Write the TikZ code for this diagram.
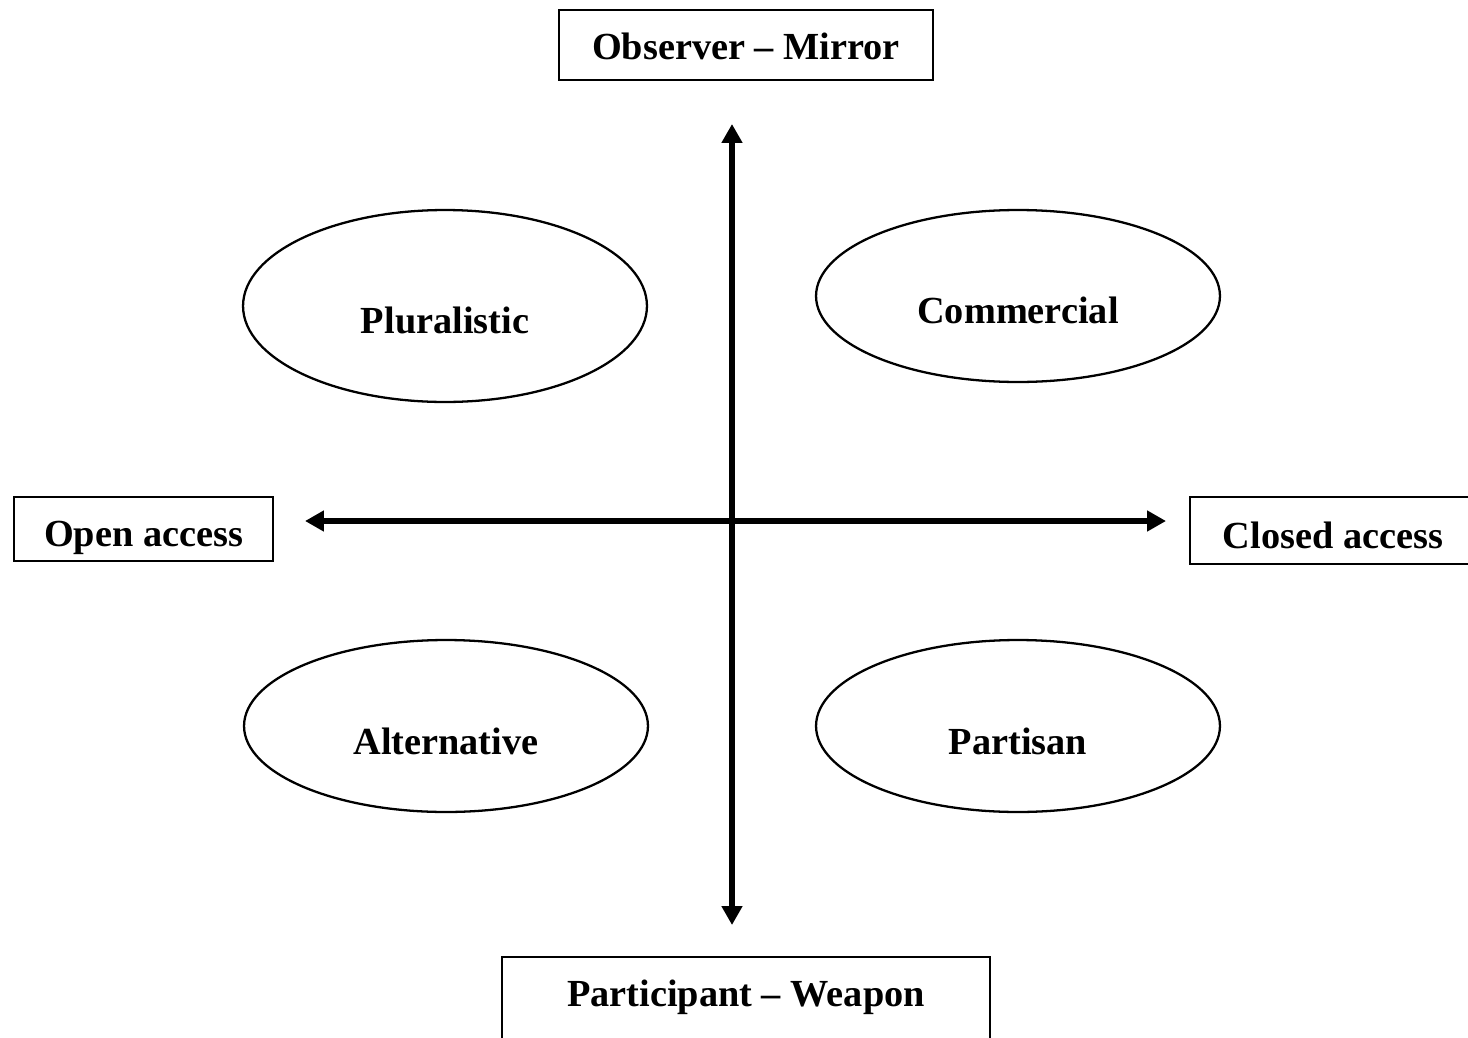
\documentclass[tikz,border=0pt]{standalone}
\usepackage{fontspec}
\setmainfont{Liberation Serif}
\usetikzlibrary{arrows.meta,shapes.geometric}

\begin{document}
\begin{tikzpicture}[x=0.02cm,y=-0.02cm,
  every node/.style={font=\fontsize{21.8}{26}\selectfont\bfseries},
  pole/.style={draw,line width=1.4pt,anchor=north,inner sep=0pt,text height=0.98cm},
  media/.style={draw,ellipse,line width=1.3pt,inner sep=0pt,minimum width=8.08cm,
    minimum height=3.44cm,text height=1.24cm,text depth=0.12cm},
  axis/.style={line width=3pt,
    {Triangle[length=0.38cm,width=0.4cm]}-{Triangle[length=0.38cm,width=0.4cm]}}]
  \useasboundingbox (0,0) rectangle (1468,1038);
  % the four poles
  \node[pole,minimum width=7.48cm,text depth=0.42cm] (mirror) at (746,9) {Observer -- Mirror};
  \node[pole,minimum width=9.76cm,text depth=2cm] (weapon) at (746,956) {Participant -- Weapon};
  \node[pole,minimum width=5.18cm,text depth=0.3cm] (open) at (143.5,496) {Open access};
  \node[pole,minimum width=5.72cm,text height=1.02cm,text depth=0.32cm] (closed) at (1333,496) {Closed access};
  % media types
  \node[media,minimum height=3.84cm] (plural) at (445,306) {Pluralistic};
  \node[media] (commercial) at (1018,296) {Commercial};
  \node[media] (alternative) at (446,726) {Alternative};
  \node[media] (partisan) at (1018,726) {Partisan};
  % axes
  \coordinate (ax-up) at (732,124);
  \coordinate (ax-down) at (732,925);
  \coordinate (ax-left) at (305,521);
  \coordinate (ax-right) at (1166,521);
  \draw[axis] (ax-down) -- (ax-up);
  \draw[axis] (ax-left) -- (ax-right);
\end{tikzpicture}
\end{document}
